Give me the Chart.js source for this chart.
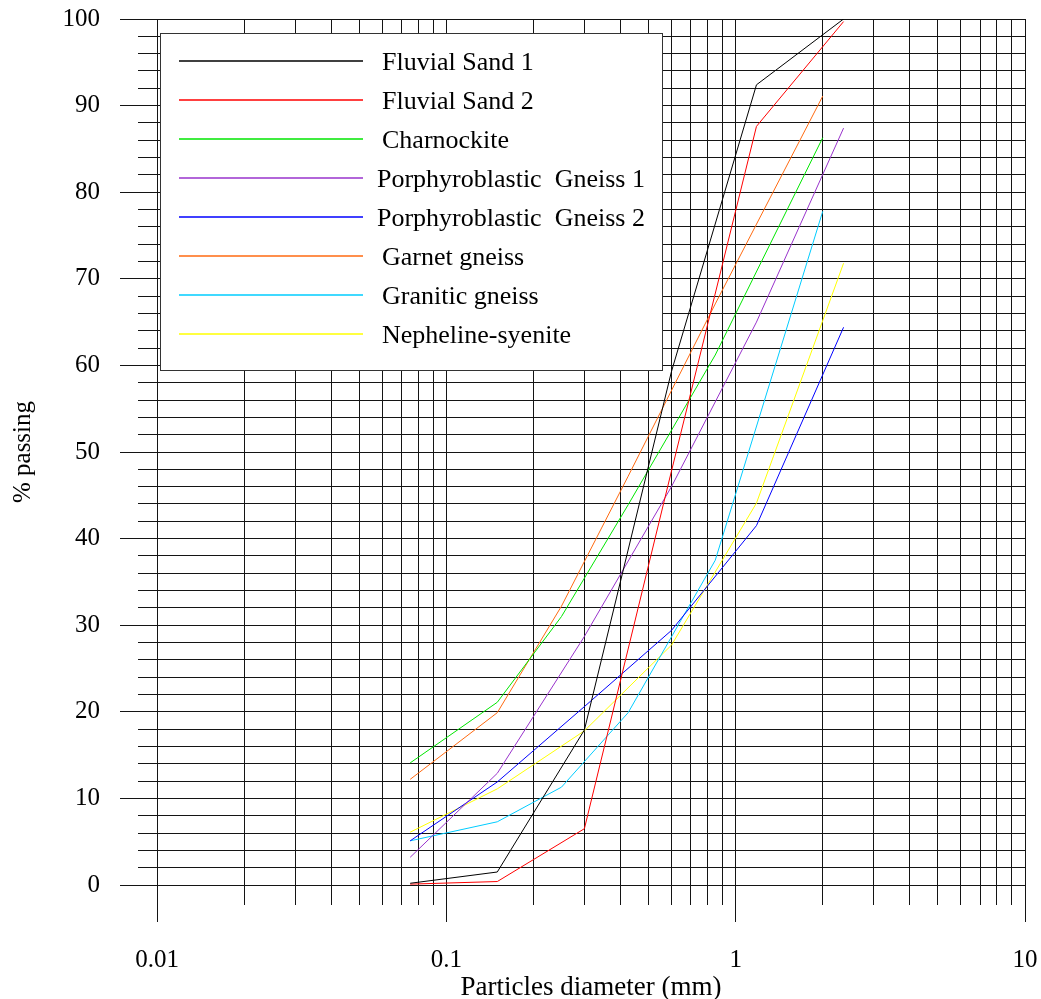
<!DOCTYPE html>
<html>
<head>
<meta charset="utf-8">
<script src="https://cdn.jsdelivr.net/npm/chart.js@4.4.0/dist/chart.umd.min.js"></script>
<style>
  html, body { margin: 0; padding: 0; background: #fff; }
  #wrap { width: 1041px; height: 999px; }
</style>
</head>
<body>
<div id="wrap"><canvas id="grading" width="1041" height="999"></canvas></div>
<script>
// sieve openings (mm) - two sieve sets were used
var sievesA = [0.075, 0.15, 0.3, 0.6, 1.18, 2.36];
var sievesB = [0.075, 0.15, 0.25, 0.425, 0.85, 2.0];

// % passing
var fluvialSand1   = [0.2, 1.5, 17.9, 59.3, 92.4, 100];
var fluvialSand2   = [0.1, 0.4, 6.5, 47.8, 87.6, 99.7];
var charnockite    = [14.1, 21.1, 31.0, 43.9, 61.2, 86.3];
var porphGneiss1   = [3.2, 12.9, 28.7, 46.0, 65.0, 87.4];
var porphGneiss2   = [5.1, 11.9, 20.6, 29.4, 41.5, 64.4];
var garnetGneiss   = [12.2, 19.9, 32.2, 47.2, 67.1, 91.1];
var graniticGneiss = [5.1, 7.3, 11.3, 19.9, 37.5, 77.8];
var nephSyenite    = [6.1, 11.1, 17.8, 27.7, 44.1, 71.8];

var seriesNames = ['Fluvial Sand 1', 'Fluvial Sand 2', 'Charnockite', 'Porphyroblastic  Gneiss 1',
                   'Porphyroblastic  Gneiss 2', 'Garnet gneiss', 'Granitic gneiss', 'Nepheline-syenite'];

// axis ticks
var xDecades = [0.01, 0.1, 1, 10];
var xGridValues = [];
for (var e = -2; e <= 0; e++) {
  for (var m = 1; m <= 9; m++) xGridValues.push(Number((m * Math.pow(10, e)).toFixed(4)));
}
xGridValues.push(10);

var serif = '"Liberation Serif", "Times New Roman", serif';
var gridColor = '#141414';

function pts(xs, ys) {
  return xs.map(function (x, i) { return { x: x, y: ys[i] }; });
}

function ds(i, xs, ys, color) {
  return { label: seriesNames[i], data: pts(xs, ys), borderColor: color, backgroundColor: color,
           borderWidth: 1, pointRadius: 0, tension: 0, fill: false };
}

// the big tick paddings must not push the plot area in
function noScalePadding(scale) {
  scale.paddingTop = 0;
  scale.paddingBottom = 0;
  scale.paddingLeft = 0;
  scale.paddingRight = 0;
}

// longer tick marks for the decade / every-10% lines
var majorTicks = {
  id: 'majorTicks',
  beforeDatasetsDraw: function (chart) {
    var ctx = chart.ctx, a = chart.chartArea;
    var xs = chart.scales.x, ys = chart.scales.y;
    ctx.save();
    ctx.strokeStyle = gridColor;
    ctx.lineWidth = 1;
    ctx.beginPath();
    xDecades.forEach(function (v) {
      var px = Math.round(xs.getPixelForValue(v) - 0.5) + 0.5;
      ctx.moveTo(px, a.bottom + 19);
      ctx.lineTo(px, a.bottom + 37);
    });
    for (var v = 0; v <= 100; v += 10) {
      var py = Math.round(ys.getPixelForValue(v) - 0.5) + 0.5;
      ctx.moveTo(a.left - 18, py);
      ctx.lineTo(a.left - 37, py);
    }
    ctx.stroke();
    ctx.restore();
  }
};

// boxed legend inside the plot, top left
var boxLegend = {
  id: 'boxLegend',
  afterDatasetsDraw: function (chart) {
    var ctx = chart.ctx, a = chart.chartArea;
    var bx = a.left + 3, by = a.top + 14, bw = 502, bh = 337;
    ctx.save();
    ctx.fillStyle = '#fff';
    ctx.fillRect(bx, by, bw, bh);
    ctx.strokeStyle = '#333';
    ctx.lineWidth = 1;
    ctx.strokeRect(bx + 0.5, by + 0.5, bw, bh);
    ctx.font = '26px ' + serif;
    ctx.textBaseline = 'alphabetic';
    chart.data.datasets.forEach(function (d, i) {
      var rowY = Math.round(by + 28 + i * 39.05);
      ctx.strokeStyle = d.borderColor;
      ctx.lineWidth = 1.3;
      ctx.beginPath();
      ctx.moveTo(bx + 19, rowY);
      ctx.lineTo(bx + 203, rowY);
      ctx.stroke();
      ctx.fillStyle = '#000';
      var tx = d.label.indexOf('Porph') === 0 ? bx + 217 : bx + 222;
      ctx.fillText(d.label, tx, rowY + 9);
    });
    ctx.restore();
  }
};

new Chart(document.getElementById('grading').getContext('2d'), {
  type: 'line',
  data: {
    datasets: [
      ds(0, sievesA, fluvialSand1, '#000000'),
      ds(1, sievesA, fluvialSand2, '#ff0000'),
      ds(2, sievesB, charnockite, '#00e600'),
      ds(3, sievesA, porphGneiss1, '#9933cc'),
      ds(4, sievesA, porphGneiss2, '#0000ff'),
      ds(5, sievesB, garnetGneiss, '#ff6a10'),
      ds(6, sievesB, graniticGneiss, '#00ccff'),
      ds(7, sievesA, nephSyenite, '#ffff00')
    ]
  },
  options: {
    responsive: false,
    animation: false,
    layout: { padding: { top: 19, right: 16, left: 0, bottom: 0 } },
    plugins: { legend: { display: false }, tooltip: { enabled: false } },
    scales: {
      x: {
        type: 'logarithmic',
        min: 0.01,
        max: 10,
        afterBuildTicks: function (scale) {
          scale.ticks = xGridValues.map(function (v) { return { value: v }; });
        },
        afterFit: function (scale) { scale.height = 114; noScalePadding(scale); },
        ticks: {
          autoSkip: false, maxRotation: 0, minRotation: 0, padding: 40, color: '#000',
          font: { family: serif, size: 25 },
          callback: function (v) { return xDecades.indexOf(v) >= 0 ? String(v) : ''; }
        },
        grid: { color: gridColor, tickColor: gridColor, lineWidth: 1, tickLength: 20 },
        border: { display: false },
        title: {
          display: true, text: 'Particles diameter (mm)', color: '#000', padding: 0,
          font: { family: serif, size: 27, lineHeight: 0.8 }
        }
      },
      y: {
        min: 0,
        max: 100,
        afterFit: function (scale) { scale.width = 157; noScalePadding(scale); },
        ticks: {
          stepSize: 2, autoSkip: false, padding: 38, color: '#000',
          font: { family: serif, size: 25 },
          callback: function (v) { return v % 10 === 0 ? v : ''; }
        },
        grid: { color: gridColor, tickColor: gridColor, lineWidth: 1, tickLength: 19 },
        border: { display: false },
        title: {
          display: true, text: '% passing', color: '#000', padding: { top: 8, bottom: 0 },
          font: { family: serif, size: 25 }
        }
      }
    }
  },
  plugins: [majorTicks, boxLegend]
});
</script>
</body>
</html>
